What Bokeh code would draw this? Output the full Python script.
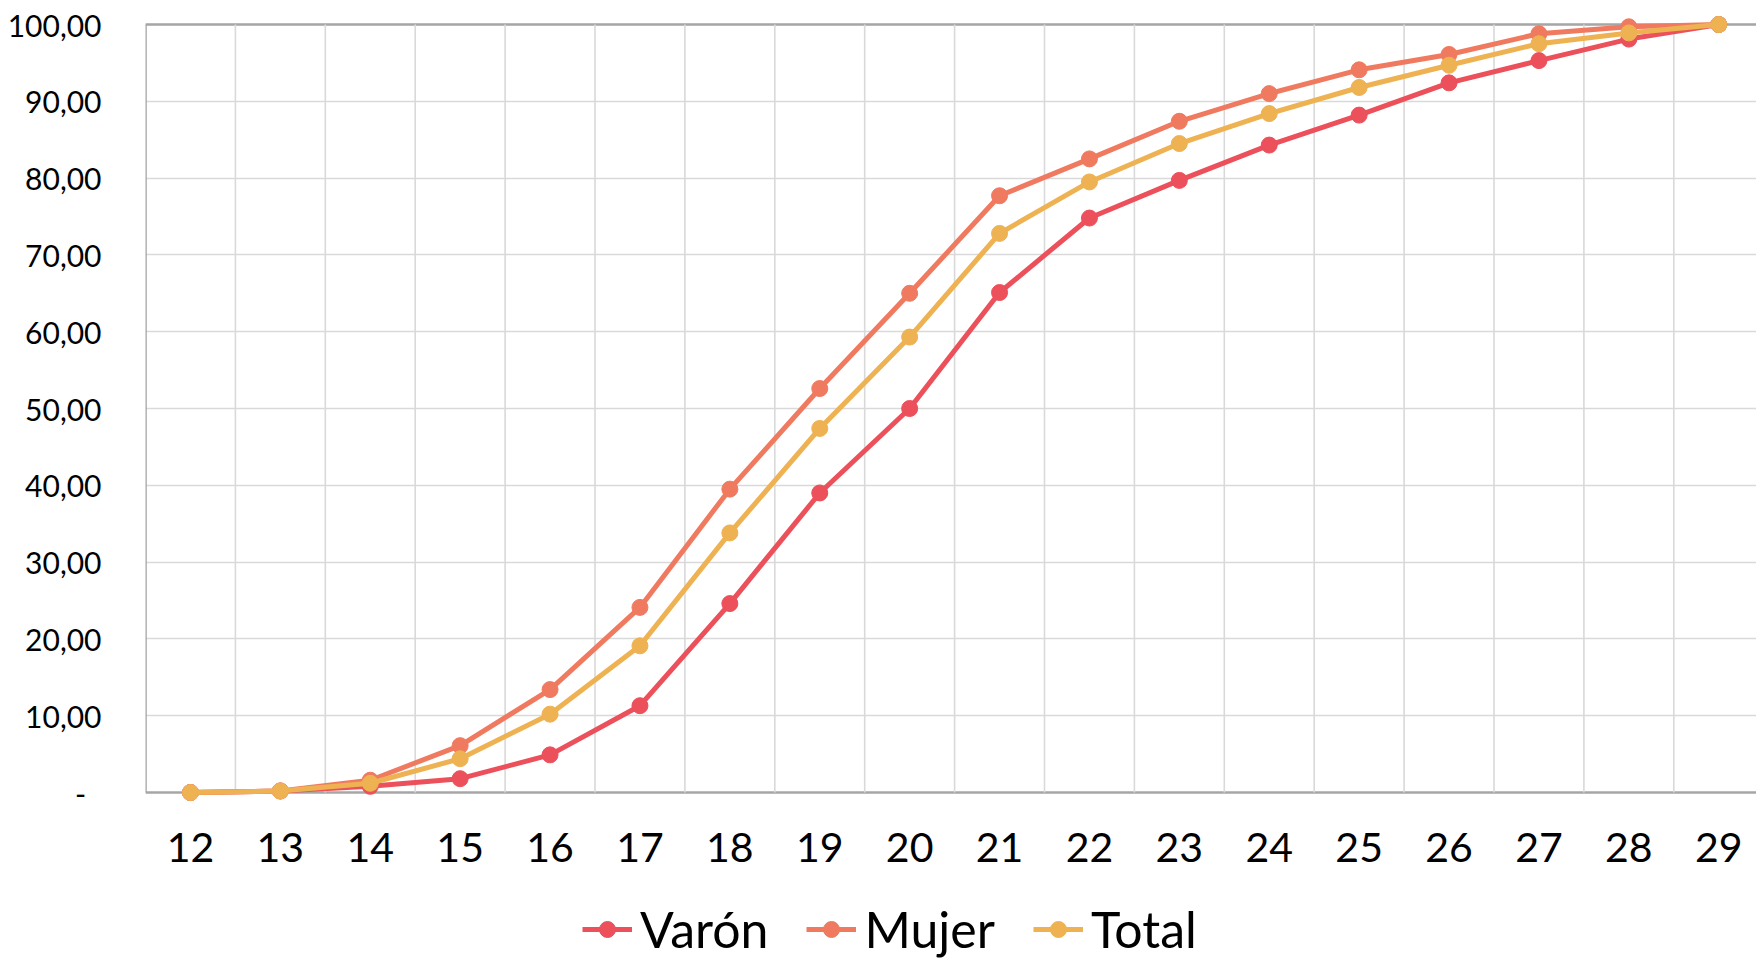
from bokeh.plotting import figure
from bokeh.models import Range1d, FixedTicker, Span, Legend, LegendItem
from bokeh.embed import file_html
from bokeh.resources import INLINE

# ---- data -------------------------------------------------------------
ages = [12, 13, 14, 15, 16, 17, 18, 19, 20, 21, 22, 23, 24, 25, 26, 27, 28, 29]
varon = [0.0, 0.2, 0.8, 1.8, 4.9, 11.3, 24.6, 39.0, 50.0, 65.1, 74.8, 79.7,
         84.3, 88.2, 92.4, 95.3, 98.1, 100.0]
mujer = [0.0, 0.2, 1.6, 6.1, 13.4, 24.1, 39.5, 52.6, 65.0, 77.7, 82.5, 87.4,
         91.0, 94.1, 96.1, 98.8, 99.7, 100.0]
total = [0.0, 0.2, 1.2, 4.4, 10.2, 19.1, 33.8, 47.4, 59.3, 72.8, 79.5, 84.5,
         88.4, 91.8, 94.7, 97.5, 98.9, 100.0]
series_names = ["Varón", "Mujer", "Total"]
y_ticks = [0, 10, 20, 30, 40, 50, 60, 70, 80, 90, 100]
y_tick_labels = ["-\u00a0\u00a0", "10,00", "20,00", "30,00", "40,00", "50,00",
                 "60,00", "70,00", "80,00", "90,00", "100,00"]

# ---- style ------------------------------------------------------------
FONT = "Lato"
colors = ["#EB505B", "#F07A5F", "#EEB252"]
GRID = "#D9D9D9"
AXIS = "#A6A6A6"

PX_X = 89.9   # pixels per category
PX_Y = 7.68   # pixels per percentage point
x_start = ages[0] - 0.5
x_end = x_start + 1611 / PX_X
y_end = 100 + 10 / PX_Y
y_start = -168 / PX_Y

p = figure(
    frame_width=1611, frame_height=946,
    min_border_left=145, min_border_right=0, min_border_top=14, min_border_bottom=0,
    x_range=Range1d(x_start, x_end), y_range=Range1d(y_start, y_end),
    output_backend="svg", toolbar_location=None,
    background_fill_color="white", border_fill_color="white",
)
p.outline_line_color = None

# gridlines
p.xgrid.visible = False
p.ygrid.ticker = FixedTicker(ticks=y_ticks[1:])
p.ygrid.grid_line_color = GRID
p.ygrid.grid_line_width = 1.6

bounds = [a + 0.5 for a in ages[:-1]]
p.segment(x0=bounds, y0=[y_ticks[0]] * len(bounds), x1=bounds, y1=[y_ticks[-1]] * len(bounds),
          line_color=GRID, line_width=1.6)

# axis frame lines
p.segment(x0=[x_start], y0=[y_ticks[0]], x1=[x_start], y1=[y_ticks[-1]],
          line_color=AXIS, line_width=2.6)
p.add_layout(Span(location=y_ticks[0], dimension="width", line_color=AXIS,
                  line_width=2.6, level="underlay"))
p.add_layout(Span(location=y_ticks[-1], dimension="width", line_color=AXIS,
                  line_width=2.6, level="underlay"))

# series
items = []
for name, vals, c in zip(series_names, [varon, mujer, total], colors):
    l = p.line(ages, vals, line_color=c, line_width=5)
    s = p.scatter(ages, vals, size=16, fill_color=c, line_color=c)
    items.append(LegendItem(label=name, renderers=[l, s]))

# axes
p.xaxis.fixed_location = 0
p.xaxis.ticker = FixedTicker(ticks=ages)
p.xaxis.axis_line_color = None
p.xaxis.major_tick_line_color = None
p.xaxis.minor_tick_line_color = None
p.xaxis.major_label_standoff = 34
p.xaxis.major_label_text_font = FONT
p.xaxis.major_label_text_font_size = "41px"
p.xaxis.major_label_text_color = "#000000"

p.yaxis.ticker = FixedTicker(ticks=y_ticks)
p.yaxis.major_label_overrides = {t: lab for t, lab in zip(y_ticks, y_tick_labels)}
p.yaxis.axis_line_color = None
p.yaxis.major_tick_line_color = None
p.yaxis.minor_tick_line_color = None
p.yaxis.major_label_standoff = 38
p.yaxis.major_label_text_font = FONT
p.yaxis.major_label_text_font_size = "30px"
p.yaxis.major_label_text_color = "#000000"

legend = Legend(items=items, orientation="horizontal", location=(437, 1))
legend.label_text_font = FONT
legend.label_text_font_size = "50px"
legend.label_text_color = "#000000"
legend.glyph_width = 50
legend.glyph_height = 40
legend.label_standoff = 8
legend.spacing = 38
legend.padding = 0
legend.margin = 0
legend.border_line_color = None
legend.background_fill_alpha = 0
p.add_layout(legend, "center")

open("out.html", "w").write(file_html(p, INLINE))
